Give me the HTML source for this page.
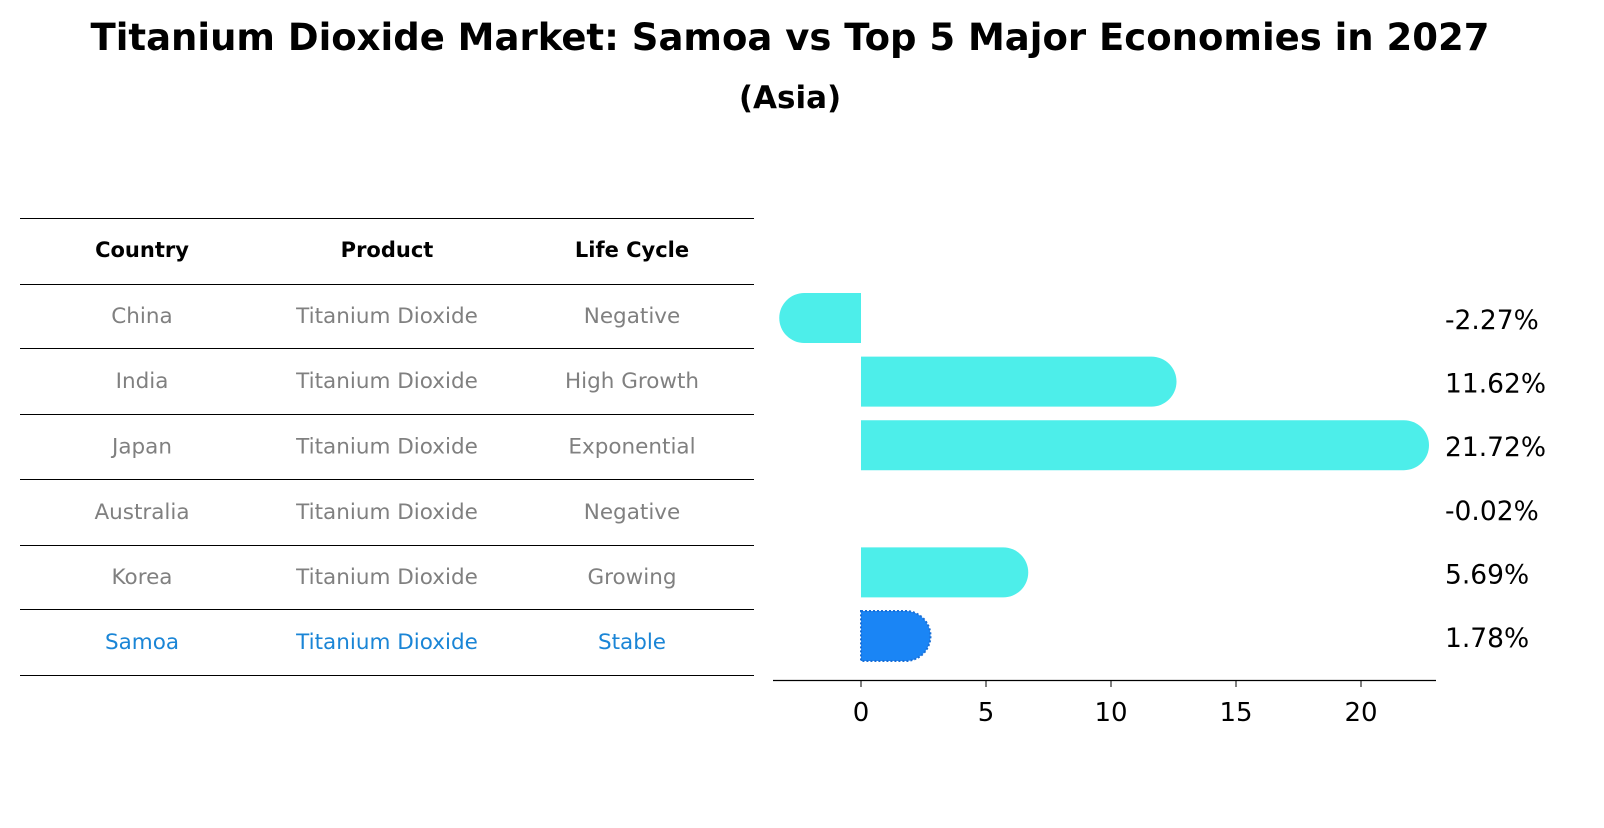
<!DOCTYPE html>
<html><head><meta charset="utf-8"><style>
body{margin:0;background:#fff;font-family:"Liberation Sans","DejaVu Sans",sans-serif;}
</style></head><body>
<svg width="1604" height="823" xmlns="http://www.w3.org/2000/svg" font-family="DejaVu Sans, Liberation Sans, sans-serif">
<text x="790" y="50" text-anchor="middle" font-size="37" font-weight="bold">Titanium Dioxide Market: Samoa vs Top 5 Major Economies in 2027</text>
<text x="790" y="108" text-anchor="middle" font-size="31" font-weight="bold">(Asia)</text>
<g id="table"></g>
<g id="bars"></g>
</svg>
<script>
const countries=["China","India","Japan","Australia","Korea","Samoa"];
const products=["Titanium Dioxide","Titanium Dioxide","Titanium Dioxide","Titanium Dioxide","Titanium Dioxide","Titanium Dioxide"];
const lifeCycles=["Negative","High Growth","Exponential","Negative","Growing","Stable"];
const growth=[-2.27,11.62,21.72,-0.02,5.69,1.78];
const xTicks=[0,5,10,15,20];
const NS="http://www.w3.org/2000/svg";
function mk(t,a,p){const e=document.createElementNS(NS,t);for(const k in a)e.setAttribute(k,a[k]);p.appendChild(e);return e;}
const tbl=document.getElementById('table');
const lineY=[218,284,348,414,479,545,609,675];
lineY.forEach(y=>{const l=mk('line',{x1:20,x2:754,y1:y+0.5,y2:y+0.5,stroke:'#000','stroke-width':1},tbl);

});
const colX=[142,387,632];
["Country","Product","Life Cycle"].forEach((h,i)=>{const t=mk('text',{x:colX[i],y:257,'text-anchor':'middle','font-size':21,'font-weight':'bold'},tbl);t.textContent=h;

});
countries.forEach((c,r)=>{const y=(lineY[r+1]+lineY[r+2])/2+7;const col=c==="Samoa"?'#1a85d6':'#808080';
[c,products[r],lifeCycles[r]].forEach((v,i)=>{const t=mk('text',{x:colX[i],y:y,'text-anchor':'middle','font-size':21.5,fill:col},tbl);t.textContent=v;

});});
const g=document.getElementById('bars');
const x0=861,sc=25;const xs=v=>x0+v*sc;
const rowY=i=>318+i*63.6;
const h=50,r=25;
growth.forEach((v,i)=>{const yc=rowY(i),yt=yc-h/2;const xe=xs(v);const sam=countries[i]==="Samoa";
let d;
if(Math.abs(v)>0.1){
 if(v>=0) d=`M${x0},${yt}H${xe}A${r},${r} 0 0 1 ${xe},${yt+h}H${x0}Z`;
 else d=`M${x0},${yt}H${xe}A${r},${r} 0 0 0 ${xe},${yt+h}H${x0}Z`;
 const p=mk('path',{d:d,fill:sam?'#1a85f5':'#4deeea'},g);
 if(sam){p.setAttribute('stroke','#1a6fd6');p.setAttribute('stroke-width','2');p.setAttribute('stroke-dasharray','2,2');}
 
 }
const t=mk('text',{x:1445,y:yc+11,'font-size':26.5},g);t.textContent=v.toFixed(2)+'%';

});
const ax=mk('line',{x1:773,x2:1436,y1:680.5,y2:680.5,stroke:'#000','stroke-width':1.3},g);


xTicks.forEach(v=>{const tk=mk('line',{x1:xs(v),x2:xs(v),y1:680,y2:687,stroke:'#000'},g);


const t=mk('text',{x:xs(v),y:721,'text-anchor':'middle','font-size':26},g);t.textContent=v;

});
</script>
</body></html>
